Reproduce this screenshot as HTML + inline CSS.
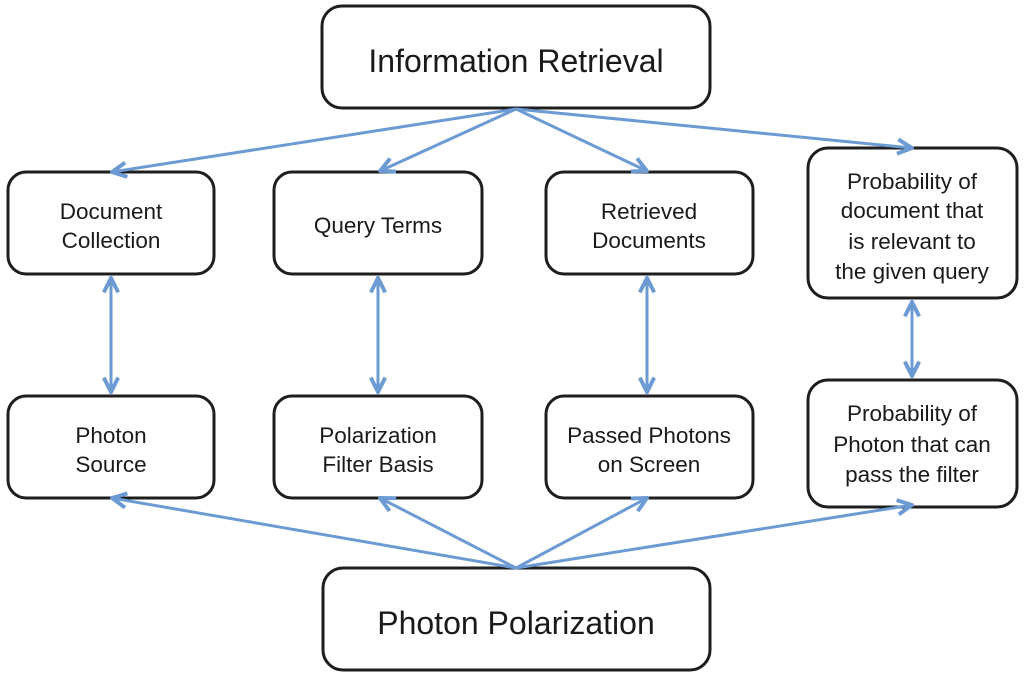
<!DOCTYPE html>
<html><head><style>html,body{margin:0;padding:0;background:#fff}svg{display:block}</style></head>
<body>
<svg width="1024" height="678" viewBox="0 0 1024 678" xmlns="http://www.w3.org/2000/svg">
<defs>
<marker id="a" viewBox="0 0 10 10" refX="9" refY="5" markerWidth="6" markerHeight="6" orient="auto-start-reverse" markerUnits="strokeWidth">
<path d="M1,1 L9,5 L1,9" fill="none" stroke="#6b9bd2" stroke-width="2.2"/>
</marker>
</defs>
<g fill="#fff" stroke="#1e1e1e" stroke-width="3">
<rect x="322" y="6" width="388" height="102" rx="20"/>
<rect x="8" y="172" width="206" height="102" rx="18"/>
<rect x="274" y="172" width="208" height="102" rx="18"/>
<rect x="546" y="172" width="207" height="102" rx="18"/>
<rect x="808" y="148" width="209" height="150" rx="20"/>
<rect x="8" y="396" width="206" height="102" rx="18"/>
<rect x="274" y="396" width="208" height="102" rx="18"/>
<rect x="546" y="396" width="207" height="102" rx="18"/>
<rect x="808" y="380" width="209" height="127" rx="20"/>
<rect x="323" y="568" width="387" height="102" rx="20"/>
</g>
<g stroke="#6b9bd2" stroke-width="3" fill="none" marker-end="url(#a)">
<line x1="516" y1="109" x2="112" y2="172"/>
<line x1="516" y1="109" x2="380" y2="171"/>
<line x1="516" y1="109" x2="647" y2="171"/>
<line x1="516" y1="109" x2="912" y2="148"/>
<line x1="516" y1="568" x2="112" y2="498"/>
<line x1="516" y1="568" x2="380" y2="498"/>
<line x1="516" y1="568" x2="647" y2="498"/>
<line x1="516" y1="568" x2="912" y2="505"/>
<line x1="111" y1="392" x2="111" y2="278" marker-start="url(#a)"/>
<line x1="378" y1="392" x2="378" y2="278" marker-start="url(#a)"/>
<line x1="647" y1="392" x2="647" y2="278" marker-start="url(#a)"/>
<line x1="912" y1="376" x2="912" y2="302" marker-start="url(#a)"/>
</g>
<g font-family="Liberation Sans, sans-serif" fill="#1a1a1a" text-anchor="middle" font-size="22.5">
<text x="516" y="72" font-size="32">Information Retrieval</text>
<text x="516" y="634" font-size="32">Photon Polarization</text>
<text x="111" y="219">Document</text><text x="111" y="248">Collection</text>
<text x="378" y="233">Query Terms</text>
<text x="649" y="219">Retrieved</text><text x="649" y="248">Documents</text>
<text x="912" y="189">Probability of</text><text x="912" y="218">document that</text><text x="912" y="249">is relevant to</text><text x="912" y="279">the given query</text>
<text x="111" y="443">Photon</text><text x="111" y="472">Source</text>
<text x="378" y="443">Polarization</text><text x="378" y="472">Filter Basis</text>
<text x="649" y="443">Passed Photons</text><text x="649" y="472">on Screen</text>
<text x="912" y="421">Probability of</text><text x="912" y="452">Photon that can</text><text x="912" y="482">pass the filter</text>
</g>
</svg>
</body></html>
